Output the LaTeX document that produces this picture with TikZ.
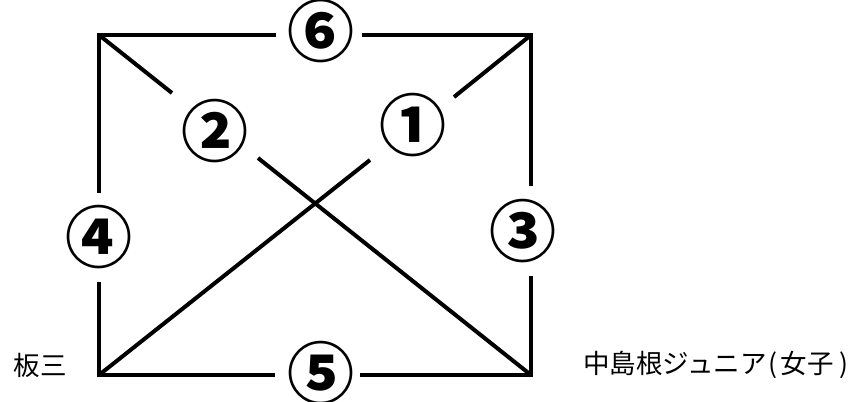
\documentclass[tikz,border=0pt]{standalone}
\usepackage{fontspec}
\newfontfamily\cjk{Noto Sans CJK JP}
\tikzset{
  edge/.style={line width=4pt, line join=miter},
  num/.style={inner sep=0pt, text height=52.8pt, text depth=2.6pt, font=\cjk\bfseries\fontsize{67}{67}\selectfont},
  team/.style={inner sep=0pt, font=\cjk\fontsize{26.5}{26.5}\selectfont}
}
\begin{document}
\begin{tikzpicture}[x=1pt,y=-1pt]
\useasboundingbox (0,0) rectangle (858,401);
\coordinate (TL) at (99,35);
\coordinate (TR) at (531,35);
\coordinate (BL) at (99,375);
\coordinate (BR) at (531,375);
\coordinate (t1) at (276,35);
\coordinate (t2) at (362,35);
\coordinate (b1) at (275,375);
\coordinate (b2) at (360,375);
\coordinate (l1) at (99,193);
\coordinate (l2) at (99,282);
\coordinate (r1) at (531,186);
\coordinate (r2) at (531,276);
\coordinate (d1) at (172,93);
\coordinate (d2) at (258,158);
\coordinate (e1) at (370,160);
\coordinate (e2) at (454,97);
\node[num] (n6) at (321,31) {⑥};
\node[num] (n5) at (321,373) {⑤};
\node[num] (n4) at (99,237) {④};
\node[num] (n3) at (523,231) {③};
\node[num] (n2) at (215,131) {②};
\node[num] (n1) at (413,125) {①};
\node[team] (ita) at (40,365) {板三};
\node[team, anchor=west] (naka) at (583,365) {中島根ジュニア\hspace{2pt}(\hspace{3pt}女子\hspace{6pt})};
\draw[edge] (t1) -- (TL) -- (l1);
\draw[edge] (t2) -- (TR) -- (r1);
\draw[edge] (l2) -- (BL) -- (b1);
\draw[edge] (b2) -- (BR) -- (r2);
\draw[edge] (TL) -- (d1);
\draw[edge] (d2) -- (BR);
\draw[edge] (BL) -- (e1);
\draw[edge] (e2) -- (TR);
\end{tikzpicture}
\end{document}
